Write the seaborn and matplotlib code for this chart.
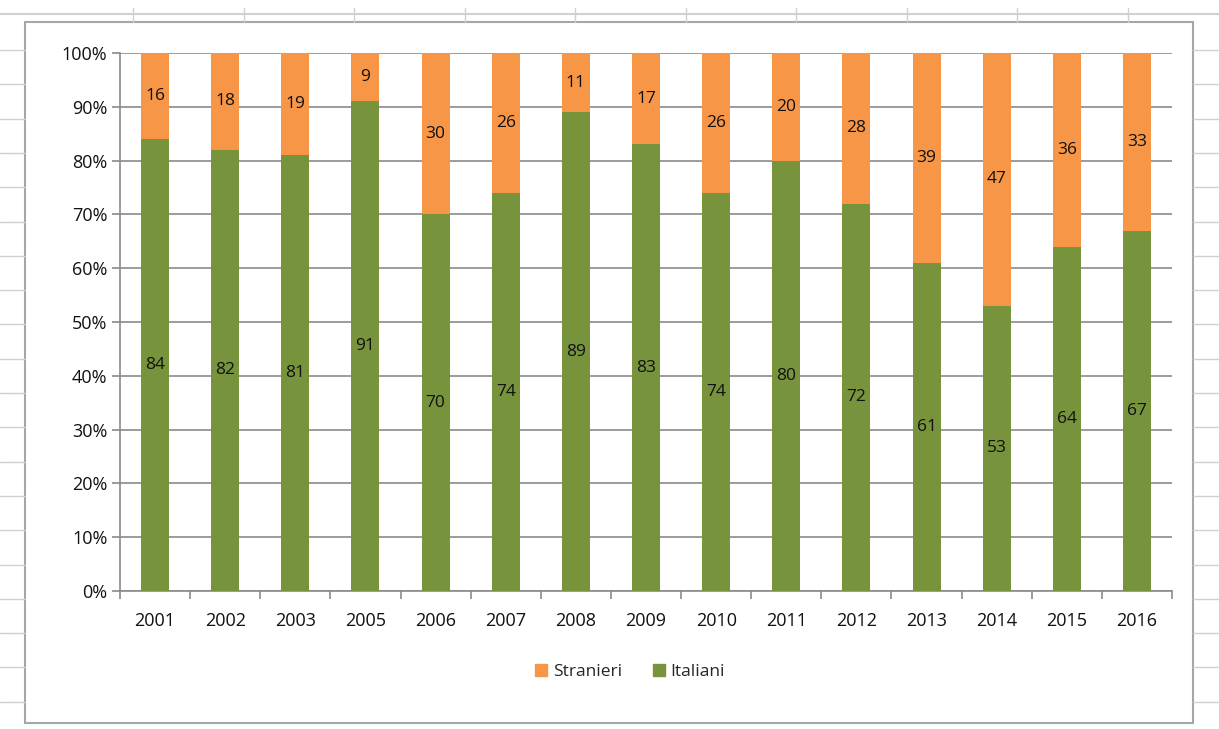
import matplotlib
matplotlib.use("Agg")
import matplotlib.pyplot as plt
import seaborn as sns
import pandas as pd
import numpy as np
from matplotlib.lines import Line2D
from matplotlib.patches import Rectangle
from matplotlib.ticker import FuncFormatter, FixedLocator

years = ["2001", "2002", "2003", "2005", "2006", "2007", "2008", "2009",
         "2010", "2011", "2012", "2013", "2014", "2015", "2016"]
italiani = [84, 82, 81, 91, 70, 74, 89, 83, 74, 80, 72, 61, 53, 64, 67]
stranieri = [16, 18, 19, 9, 30, 26, 11, 17, 26, 20, 28, 39, 47, 36, 33]

ORANGE = "#F79646"
GREEN = "#77933C"
GRID = "#8A8A8A"
TXT = "#111111"

sns.set_theme(style="white")
plt.rcParams["font.family"] = ["Open Sans", "DejaVu Sans"]

df = pd.DataFrame({"anno": years, "Italiani": italiani, "Stranieri": stranieri})
df["totale"] = df["Italiani"] + df["Stranieri"]

fig = plt.figure(figsize=(12.19, 7.29), dpi=100)
fig.patch.set_facecolor("white")

# spreadsheet cell grid around the chart
W, H = 1219, 729
def fx(px): return px / W
def fy(py): return 1 - py / H
cell = "#D0D0D0"
fig.add_artist(Line2D([0, 1], [fy(14), fy(14)], color=cell, lw=1.5, transform=fig.transFigure))
for py in np.arange(50, 729, 34.3):
    fig.add_artist(Line2D([0, fx(25)], [fy(py), fy(py)], color=cell, lw=1, transform=fig.transFigure))
    fig.add_artist(Line2D([fx(1193), 1], [fy(py), fy(py)], color=cell, lw=1, transform=fig.transFigure))
for px in np.arange(133, 1219, 110.5):
    fig.add_artist(Line2D([fx(px), fx(px)], [fy(8), fy(22)], color=cell, lw=1, transform=fig.transFigure))
fig.add_artist(Rectangle((fx(25), fy(723)), fx(1193) - fx(25), fy(22) - fy(723),
                         fill=False, edgecolor="#A6A6A6", lw=1.5, transform=fig.transFigure))

ax = fig.add_axes([fx(120), fy(591), fx(1172) - fx(120), fy(53) - fy(591)])
ax.set_facecolor("none")

sns.barplot(data=df, x="anno", y="totale", color=ORANGE, width=0.4,
            saturation=1, ax=ax, zorder=2, edgecolor="none")
sns.barplot(data=df, x="anno", y="Italiani", color=GREEN, width=0.4,
            saturation=1, ax=ax, zorder=3, edgecolor="none")

for i, (it, st) in enumerate(zip(italiani, stranieri)):
    ax.text(i, it / 2, str(it), ha="center", va="center", fontsize=12.5,
            color=TXT, zorder=5)
    ax.text(i, it + st / 2, str(st), ha="center", va="center", fontsize=12.5,
            color=TXT, zorder=5)

ax.set_ylim(0, 100)
ax.set_xlim(-0.5, len(years) - 0.5)
ax.set_yticks(np.arange(0, 101, 10))
ax.yaxis.set_major_formatter(FuncFormatter(lambda v, p: f"{int(v)}%"))
ax.yaxis.grid(True, color=GRID, lw=1.2, zorder=0)
ax.set_axisbelow(True)
ax.set_xlabel("")
ax.set_ylabel("")

for s in ["top", "right"]:
    ax.spines[s].set_visible(False)
for s in ["left", "bottom"]:
    ax.spines[s].set_color(GRID)
    ax.spines[s].set_linewidth(1.2)

ax.tick_params(axis="x", which="major", length=0, labelsize=13, pad=15, colors=TXT)
ax.xaxis.set_minor_locator(FixedLocator(np.arange(-0.5, len(years), 1)))
ax.tick_params(axis="x", which="minor", length=6, width=1.2, color=GRID, direction="out", bottom=True)
ax.tick_params(axis="y", which="major", length=6, width=1.2, color=GRID, direction="out",
               labelsize=13, left=True, labelcolor=TXT, pad=3)

handles = [Rectangle((0, 0), 1, 1, color=ORANGE), Rectangle((0, 0), 1, 1, color=GREEN)]
fig.legend(handles, ["Stranieri", "Italiani"], loc="center", bbox_to_anchor=(fx(630), fy(672)),
           ncol=2, frameon=False, fontsize=12.5, handlelength=0.7, handleheight=0.7,
           handletextpad=0.3, columnspacing=1.8)

fig.savefig("out.png", dpi=100)
